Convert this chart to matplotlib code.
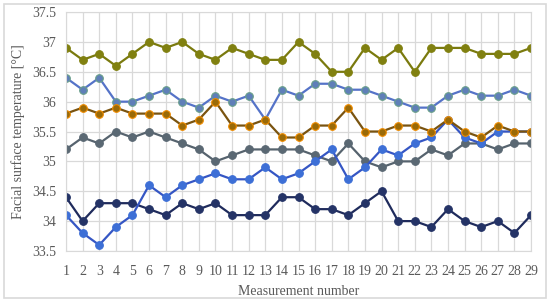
import matplotlib.pyplot as plt
import numpy as np
from matplotlib.patches import Rectangle

plt.rcParams['font.family'] = ['Liberation Serif', 'DejaVu Serif']

x = np.arange(1, 30)

navy = [34.4, 34.0, 34.3, 34.3, 34.3, 34.2, 34.1, 34.3, 34.2, 34.3, 34.1, 34.1, 34.1, 34.4, 34.4,
        34.2, 34.2, 34.1, 34.3, 34.5, 34.0, 34.0, 33.9, 34.2, 34.0, 33.9, 34.0, 33.8, 34.1]
gray = [35.2, 35.4, 35.3, 35.5, 35.4, 35.5, 35.4, 35.3, 35.2, 35.0, 35.1, 35.2, 35.2, 35.2, 35.2,
        35.1, 35.0, 35.3, 35.0, 34.9, 35.0, 35.0, 35.2, 35.1, 35.3, 35.3, 35.2, 35.3, 35.3]
bright = [34.1, 33.8, 33.6, 33.9, 34.1, 34.6, 34.4, 34.6, 34.7, 34.8, 34.7, 34.7, 34.9, 34.7, 34.8,
          35.0, 35.2, 34.7, 34.9, 35.2, 35.1, 35.3, 35.4, 35.7, 35.4, 35.3, 35.5, 35.5, 35.5]
medium = [36.4, 36.2, 36.4, 36.0, 36.0, 36.1, 36.2, 36.0, 35.9, 36.1, 36.0, 36.1, 35.7, 36.2, 36.1,
          36.3, 36.3, 36.2, 36.2, 36.1, 36.0, 35.9, 35.9, 36.1, 36.2, 36.1, 36.1, 36.2, 36.1]
orange = [35.8, 35.9, 35.8, 35.9, 35.8, 35.8, 35.8, 35.6, 35.7, 36.0, 35.6, 35.6, 35.7, 35.4, 35.4,
          35.6, 35.6, 35.9, 35.5, 35.5, 35.6, 35.6, 35.5, 35.7, 35.5, 35.4, 35.6, 35.5, 35.5]
olive = [36.9, 36.7, 36.8, 36.6, 36.8, 37.0, 36.9, 37.0, 36.8, 36.7, 36.9, 36.8, 36.7, 36.7, 37.0,
         36.8, 36.5, 36.5, 36.9, 36.7, 36.9, 36.5, 36.9, 36.9, 36.9, 36.8, 36.8, 36.8, 36.9]

fig = plt.figure(figsize=(5.5, 3.02), dpi=100)
ax = fig.add_axes([0.12, 0.169, 0.8455, 0.791])

# line colour, marker face, marker edge
styles = [
    (navy, '#1f2b5c', '#243366', '#243366'),
    (gray, '#56636e', '#5a6873', '#5a6873'),
    (bright, '#3556c4', '#3d6fd6', '#3d6fd6'),
    (medium, '#5573c8', '#5f7fb8', '#6aa08a'),
    (orange, '#7a5410', '#9a6a08', '#f08c00'),
    (olive, '#7a7a0e', '#808010', '#808010'),
]
for vals, lc, fc, ec in styles:
    ax.plot(x, vals, color=lc, lw=1.6, marker='o', ms=5.5, mfc=fc, mec=ec, mew=0.8)

ax.set_xlim(1, 29)
ax.set_ylim(33.5, 37.5)
ax.set_xticks(x)
ax.set_yticks(np.arange(33.5, 37.51, 0.5))
ax.set_yticklabels(['33.5', '34', '34.5', '35', '35.5', '36', '36.5', '37', '37.5'])
ax.grid(True, color='#d9d9d9', lw=0.9)
ax.set_axisbelow(True)
for s in ax.spines.values():
    s.set_color('#d9d9d9')
ax.tick_params(length=0, labelsize=10, colors='#595959')
ax.tick_params(axis='x', pad=10)
ax.tick_params(axis='y', pad=7)
ax.set_xlabel('Measurement number', fontsize=10, color='#595959', labelpad=5)
ax.set_ylabel('Facial surface temperature [°C]', fontsize=10, color='#595959', labelpad=5)

fig.patches.append(Rectangle((0.008, 0.013), 0.984, 0.974, transform=fig.transFigure,
                             fill=False, ec='#d9d9d9', lw=1.2))

fig.savefig('out.png', dpi=100)
